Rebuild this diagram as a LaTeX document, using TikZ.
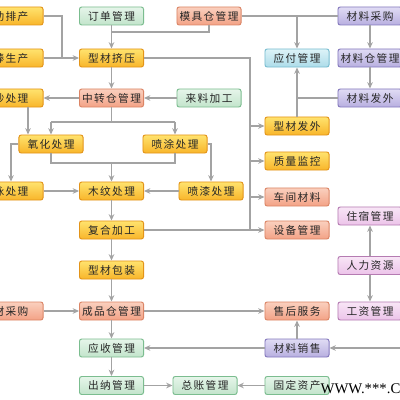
\documentclass[tikz,border=0pt]{standalone}
\usepackage{fontspec}
\newfontfamily\cjk[LetterSpace=13]{Noto Sans CJK SC}
\newfontfamily\wmfont{Liberation Serif}
\usetikzlibrary{arrows.meta}
\definecolor{lineC}{HTML}{A3A3A3}
\definecolor{yelT}{HTML}{FFE36E}
\definecolor{yelB}{HTML}{F8B52A}
\definecolor{yelD}{HTML}{E39419}
\definecolor{grnT}{HTML}{E6F5EA}
\definecolor{grnB}{HTML}{C2E4CB}
\definecolor{grnD}{HTML}{7BBD8F}
\definecolor{salT}{HTML}{FAD0BE}
\definecolor{salB}{HTML}{F3A286}
\definecolor{salD}{HTML}{DB8566}
\definecolor{bluT}{HTML}{DDF3F8}
\definecolor{bluB}{HTML}{ADDCE9}
\definecolor{bluD}{HTML}{79BDD0}
\definecolor{purT}{HTML}{E0DCF4}
\definecolor{purB}{HTML}{B8AFE0}
\definecolor{purD}{HTML}{8479BD}
\definecolor{pnkT}{HTML}{F8E6F6}
\definecolor{pnkB}{HTML}{ECC3E9}
\definecolor{pnkD}{HTML}{B57BB2}
\begin{document}
\begin{tikzpicture}[
		x=0.025cm, y=-0.025cm,
		>={Stealth[length=4.5pt,width=4pt]},
		line width=0.8pt,
		every node/.style={font=\cjk\fontsize{7.6}{9}\selectfont, text=black!85},
		box/.style={draw, rounded corners=1.6pt, minimum width=1.6cm, minimum height=0.45cm, inner sep=0pt, line width=0.7pt},
		yel/.style={box, draw=yelD, top color=yelT, bottom color=yelB},
		grn/.style={box, draw=grnD, top color=grnT, bottom color=grnB},
		sal/.style={box, draw=salD, top color=salT, bottom color=salB},
		blu/.style={box, draw=bluD, top color=bluT, bottom color=bluB},
		pur/.style={box, draw=purD, top color=purT, bottom color=purB},
		pnk/.style={box, draw=pnkD, top color=pnkT, bottom color=pnkB},
		line/.style={draw=lineC},
		arr/.style={line, ->}
		]
		
		\clip (0,0) rectangle (400,400);
		\fill[white] (0,0) rectangle (400,400);
		
		\node[yel] (zhupc) at (11,16) {助排产};
		\node[yel] (bangsc) at (11,58) {棒生产};
		\node[yel] (shacl) at (11,98) {砂处理};
		\node[yel] (yongcl) at (11,191) {泳处理};
		\node[sal] (cai) at (11,311) {材采购};
		
		\node[grn] (dingdan) at (111.5,16) {订单管理};
		\node[yel] (jiya) at (111.5,58) {型材挤压};
		\node[sal] (zhongzhuan) at (111.5,98) {中转仓管理};
		\node[yel] (muwen) at (111.5,191) {木纹处理};
		\node[yel] (fuhe) at (111.5,230) {复合加工};
		\node[yel] (baozhuang) at (111.5,270) {型材包装};
		\node[sal] (chengpin) at (111.5,311) {成品仓管理};
		\node[grn] (yingshou) at (111.5,348) {应收管理};
		\node[grn] (chuna) at (111.5,385.5) {出纳管理};
		
		\node[yel] (yanghua) at (51,144) {氧化处理};
		\node[yel] (pentu) at (175,144) {喷涂处理};
		\node[yel] (penqi) at (211,191) {喷漆处理};
		\node[sal] (muju) at (209,16) {模具仓管理};
		\node[grn] (laoliao) at (209,98) {来料加工};
		\node[grn] (zongzhang) at (205,385.5) {总账管理};
		
		\node[blu] (yingfu) at (297,58) {应付管理};
		\node[yel] (xcfw) at (297,126) {型材发外};
		\node[yel] (zhiliang) at (297,161) {质量监控};
		\node[sal] (chejian) at (297,197) {车间材料};
		\node[sal] (shebei) at (297,230) {设备管理};
		\node[sal] (shouhou) at (297,311) {售后服务};
		\node[pur] (clxs) at (297,348) {材料销售};
		\node[grn] (guding) at (297,385.5) {固定资产};
		
		\node[pur] (clcg) at (370,16) {材料采购};
		\node[pur] (clcang) at (370,58) {材料仓管理};
		\node[pur] (clfw) at (370,98) {材料发外};
		\node[pnk] (zhusu) at (370,216) {住宿管理};
		\node[pnk] (renli) at (370,265.5) {人力资源};
		\node[pnk] (gongzi) at (370,311) {工资管理};
		
		\path
		(62,58) coordinate (jbang)
		(111.5,32) coordinate (jding)
		(250,0) coordinate (jv)
		(111.5,122) coordinate (jzz)
		(28,0) coordinate (jsha)
		(111.5,163) coordinate (jyh)
		(400,348) coordinate (jright)
		;
		
		\draw[line] (zhupc.east) -| (jbang);
		\draw[arr] (bangsc) -- (jiya);
		\draw[arr] (dingdan) -- (jiya);
		\draw[line] (muju.south) |- (jding);
		\draw[line] (muju.east) -- (clcg.west);
		\draw[arr] (yingfu.north |- muju.east) -- (yingfu.north);
		\draw[arr] (clcg) -- (clcang);
		\draw[arr] (clcang) -- (clfw);
		\draw[line] (clfw.west) -- (clfw.west -| yingfu.south);
		\draw[arr] (xcfw) -- (yingfu);
		
		\draw[line] (jiya.east) -| (jv |- shebei.west);
		\foreach \n in {xcfw, zhiliang, chejian} {
			\draw[arr] (jv |- \n.west) -- (\n.west);
		}
		\draw[arr] (fuhe) -- (shebei);
		
		\draw[arr] (jiya) -- (zhongzhuan);
		\draw[arr] (laoliao) -- (zhongzhuan);
		\draw[arr] (zhongzhuan) -- (shacl);
		\draw[line] (zhongzhuan.south) -- (jzz);
		\draw[line] (jzz -| yanghua.north) -- (jzz -| pentu.north);
		\draw[arr] (jzz -| yanghua.north) -- (yanghua.north);
		\draw[arr] (jzz -| pentu.north) -- (pentu.north);
		\draw[arr] (jsha |- shacl.south) -- (jsha |- yanghua.north);
		
		\draw[arr] (yanghua.west) -| (yongcl.north);
		\draw[line] (yanghua.south) |- (jyh) -| (pentu.south);
		\draw[arr] (jyh) -- (muwen);
		\draw[arr] (pentu.east) -| (penqi.north);
		\draw[arr] (penqi) -- (muwen);
		\draw[arr] (yongcl) -- (muwen);
		
		\draw[arr] (muwen) -- (fuhe);
		\draw[arr] (fuhe) -- (baozhuang);
		\draw[arr] (baozhuang) -- (chengpin);
		\draw[arr] (chengpin) -- (yingshou);
		\draw[arr] (yingshou) -- (chuna);
		\draw[arr] (cai) -- (chengpin);
		\draw[arr] (chengpin) -- (shouhou);
		\draw[arr] (clxs) -- (yingshou);
		\draw[arr] (clxs) -- (shouhou);
		\draw[arr] (jright) -- (clxs);
		\draw[arr] (renli) -- (zhusu);
		\draw[arr] (renli) -- (gongzi);
		\draw[arr] (chuna) -- (zongzhang);
		\draw[arr] (guding) -- (zongzhang);
		
		\node[anchor=base west, inner sep=0pt, font=\wmfont\fontsize{10.5}{12}\selectfont, text=black] (wm) at (320,393) {WWW.***.CO};
		
	\end{tikzpicture}
\end{document}
